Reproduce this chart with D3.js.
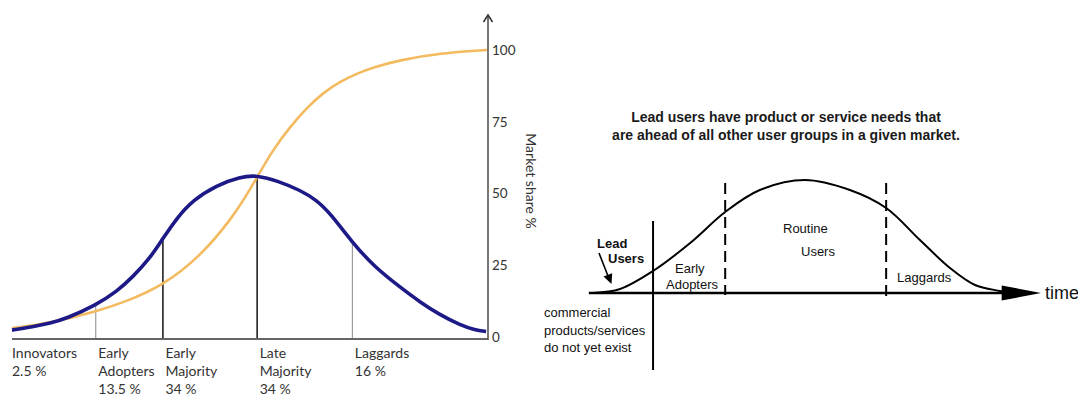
<!DOCTYPE html>
<html><head><meta charset="utf-8">
<script src="https://cdn.jsdelivr.net/npm/d3@7"></script>
<style>html,body{margin:0;padding:0;background:#fff;} svg{display:block;}</style>
</head><body>
<svg id="chart" width="1078" height="397"></svg>
<script>
// ---------- Left panel: diffusion of innovations ----------
const bellX = [0,4.4,8.0,11.5,17.6,22.0,25.4,29.0,31.5,34.6,38.0,43.0,47.9,51.5,55.9,60.5,64.0,66.8,71.4,76.1,81.5,85.7,89.9,94.1,97.3,99.6];
const bellY = [2.4,3.6,4.8,6.5,11.1,15.8,21.0,27.5,33.8,41.4,47.7,52.9,55.8,56.4,54.3,51.2,47.7,43.2,33.1,24.5,17.4,12.2,7.7,4.2,2.4,1.9];
const shareX = [0,8.0,17.6,24.8,31.5,39.5,46.4,49.4,51.5,54.8,58.4,61.9,65.3,68.9,72.5,75.8,81.5,89.9,99.8];
const shareY = [3.1,4.9,8.7,12.9,17.8,27.9,41.8,49.8,55.7,65.2,73.2,79.8,85.0,89.0,91.8,93.9,96.5,98.9,100];
const yTicks = [0,25,50,75,100];
const categories = ["Innovators","Early Adopters","Early Majority","Late Majority","Laggards"];
const categoryShares = ["2.5 %","13.5 %","34 %","34 %","16 %"];
const categoryStart = [0,17.6,31.7,51.5,71.5];
const dividerStrong = [false,false,true,true,false];

// ---------- Right panel: lead users ----------
const leadX = [0,6.5,14.4,23.3,31.7,40.0,50.8,61.6,70.3,78.4,85.6,91.6,97.6,100];
const leadY = [0,4,22,50,81,103,113,103,85,53,25,8,2,0];
const dashedAt = [31.7,70.3];
const launchAt = 14.4;
const titleLines = ["Lead users have product or service needs that","are ahead of all other user groups in a given market."];

const svg = d3.select("#chart");

// scales (left)
const xL = d3.scaleLinear().domain([0,100]).range([12,488]);
const yL = d3.scaleLinear().domain([0,100]).range([337,50]);
const lf = "Lato, 'Open Sans', sans-serif";

const gL = svg.append("g");
gL.append("line").attr("x1",xL(0)).attr("x2",xL(100)).attr("y1",yL(0)+2).attr("y2",yL(0)+2)
  .attr("stroke","#666").attr("stroke-width",2);
gL.append("line").attr("x1",xL(100)).attr("x2",xL(100)).attr("y1",yL(0)+3).attr("y2",15)
  .attr("stroke","#555").attr("stroke-width",1.6);
gL.append("path").attr("d",`M${xL(100)-4.5},${22} L${xL(100)},${15} L${xL(100)+4.5},${22}`)
  .attr("fill","none").attr("stroke","#333").attr("stroke-width",1.5);

const yAxis = d3.axisRight(yL).tickValues(yTicks).tickSize(0).tickPadding(4);
const ga = gL.append("g").attr("transform",`translate(${xL(100)},0)`).call(yAxis);
ga.select(".domain").remove();
ga.selectAll("text").attr("font-family",lf).attr("font-size",13.5).attr("fill","#333");

gL.append("text").attr("transform",`translate(526,181) rotate(90)`)
  .attr("text-anchor","middle").attr("font-family",lf).attr("font-size",14).attr("fill","#333")
  .text("Market share %");

const bellData = bellX.map((x,i)=>[x,bellY[i]]);
const shareData = shareX.map((x,i)=>[x,shareY[i]]);
const lineL = d3.line().x(d=>xL(d[0])).y(d=>yL(d[1])).curve(d3.curveBasis);

gL.append("path").datum(shareData).attr("d",lineL).attr("fill","none")
  .attr("stroke","#f3ba60").attr("stroke-width",2.6);
const bellPath = gL.append("path").datum(bellData).attr("d",lineL).attr("fill","none")
  .attr("stroke","#1d1a87").attr("stroke-width",3.6);

const node = bellPath.node();
const total = node.getTotalLength();
function curveYAt(px){
  let lo=0, hi=total;
  for(let k=0;k<40;k++){const m=(lo+hi)/2; if(node.getPointAtLength(m).x<px) lo=m; else hi=m;}
  return node.getPointAtLength(lo).y;
}
categoryStart.forEach((c,i)=>{
  if(i===0) return;
  const px = xL(c);
  gL.insert("line", "path").attr("x1",px).attr("x2",px).attr("y1",yL(0)+1).attr("y2",curveYAt(px))
    .attr("stroke",dividerStrong[i]?"#222":"#8a8a8a").attr("stroke-width",dividerStrong[i]?1.6:1);
});

categories.forEach((c,i)=>{
  const words = c.split(" ");
  const lines = words.concat([categoryShares[i]]);
  const t = gL.append("text").attr("font-family",lf).attr("font-size",14).attr("fill","#333");
  const x0 = xL(categoryStart[i]) + (i===0?0:2.5);
  lines.forEach((l,j)=>{
    t.append("tspan").attr("x",x0).attr("y",358 + j*18).text(l);
  });
});

// ---------- Right panel ----------
const xR = d3.scaleLinear().domain([0,100]).range([593,1010]);
const yR = d3.scaleLinear().domain([0,100]).range([293,193]);
const rf = "'Liberation Sans', Arial, sans-serif";
const gR = svg.append("g");

gR.append("text").attr("text-anchor","middle").attr("font-family",rf).attr("font-weight","bold")
  .attr("font-size",14).attr("fill","#1a1a1a")
  .selectAll("tspan").data(titleLines).join("tspan")
  .attr("x",786).attr("y",(d,i)=>122+i*18).text(d=>d);

gR.append("line").attr("x1",xR(launchAt)).attr("x2",xR(launchAt)).attr("y1",yR(72)).attr("y2",yR(-77))
  .attr("stroke","#000").attr("stroke-width",2);
dashedAt.forEach((d,i)=>{
  gR.append("line").attr("x1",xR(d)).attr("x2",xR(d)).attr("y1",yR(110)).attr("y2",yR(i===0?-2:-5))
    .attr("stroke","#000").attr("stroke-width",2).attr("stroke-dasharray","11,6");
});
gR.append("line").attr("x1",xR(-1)).attr("x2",xR(100)).attr("y1",yR(0)).attr("y2",yR(0))
  .attr("stroke","#000").attr("stroke-width",2.6);
gR.append("path").attr("d",`M${xR(98)},${yR(0)-7.5} L1041,${yR(0)} L${xR(98)},${yR(0)+7.5} Z`).attr("fill","#000");
gR.append("text").attr("x",1045).attr("y",yR(0)+6).attr("font-family",rf).attr("font-size",18).attr("fill","#111").text("time");

const leadData = leadX.map((x,i)=>[x,leadY[i]]);
const lineR = d3.line().x(d=>xR(d[0])).y(d=>yR(d[1])).curve(d3.curveCatmullRom.alpha(0.5));
gR.append("path").datum(leadData).attr("d",lineR).attr("fill","none").attr("stroke","#000").attr("stroke-width",2);

function lbl(x,y,s,bold){
  gR.append("text").attr("x",x).attr("y",y).attr("font-family",rf).attr("font-size",13)
    .attr("font-weight",bold?"bold":"normal").attr("fill","#111").text(s);
}
lbl(597,248,"Lead",true);
lbl(608,263,"Users",true);
lbl(675,273,"Early");
lbl(666,289,"Adopters");
lbl(783,233,"Routine");
lbl(801,256,"Users");
lbl(897,282,"Laggards");
lbl(544,317,"commercial");
lbl(544,335,"products/services");
lbl(544,352,"do not yet exist");

gR.append("line").attr("x1",599).attr("y1",253).attr("x2",608).attr("y2",276)
  .attr("stroke","#000").attr("stroke-width",1.6);
gR.append("path").attr("d","M603.5,276.5 L611.5,284 L612.2,273.2 Z").attr("fill","#000");
</script>
</body></html>
